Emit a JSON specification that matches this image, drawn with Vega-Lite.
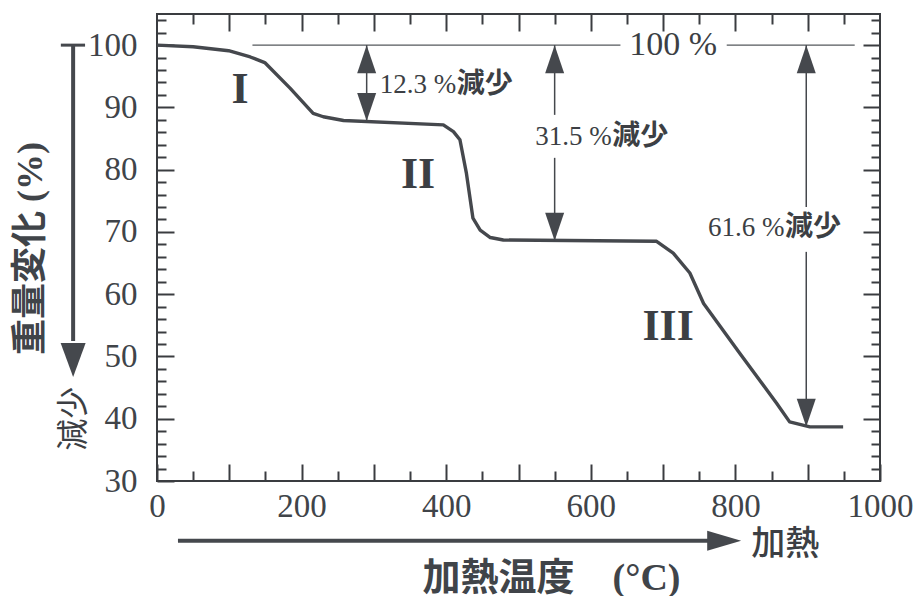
{
  "$schema": "https://vega.github.io/schema/vega-lite/v6.json",
  "width": 723,
  "height": 467,
  "autosize": {"type": "none"},
  "padding": {"left": 157, "top": 14, "right": 37, "bottom": 115},
  "background": "white",
  "config": {
    "view": {"stroke": "#3a3c40", "strokeWidth": 2},
    "axis": {
      "domain": false,
      "grid": false,
      "tickColor": "#3a3c40",
      "tickWidth": 2,
      "labelFont": "Liberation Serif",
      "labelFontSize": 33,
      "labelColor": "#404449",
      "titleColor": "#404449",
      "labelOverlap": false,
      "labelFlush": false
    }
  },
  "datasets": {
    "tga": [
      {"T": 0, "W": 100.0},
      {"T": 50, "W": 99.75},
      {"T": 99, "W": 99.1},
      {"T": 129, "W": 98.1},
      {"T": 149, "W": 97.2},
      {"T": 184, "W": 93.1},
      {"T": 216, "W": 89.05},
      {"T": 230, "W": 88.5},
      {"T": 258, "W": 87.9},
      {"T": 396, "W": 87.2},
      {"T": 410, "W": 86.1},
      {"T": 419, "W": 84.8},
      {"T": 428, "W": 79.4},
      {"T": 437, "W": 72.2},
      {"T": 447, "W": 70.3},
      {"T": 461, "W": 69.1},
      {"T": 479, "W": 68.7},
      {"T": 691, "W": 68.5},
      {"T": 714, "W": 66.6},
      {"T": 737, "W": 63.4},
      {"T": 756, "W": 58.5},
      {"T": 806, "W": 50.5},
      {"T": 857, "W": 42.5},
      {"T": 875, "W": 39.5},
      {"T": 903, "W": 38.7},
      {"T": 949, "W": 38.7}
    ],
    "refline": [
      {"x1": 132, "x2": 641, "y": 100},
      {"x1": 788, "x2": 965, "y": 100}
    ],
    "shafts": [
      {"x": 290, "y1": 100, "y2": 87.8},
      {"x": 550, "y1": 100, "y2": 88.8},
      {"x": 550, "y1": 81.9, "y2": 68.6},
      {"x": 898, "y1": 100, "y2": 74.0},
      {"x": 898, "y1": 66.8, "y2": 38.7}
    ],
    "headsUp": [
      {"x": 290, "y": 100},
      {"x": 550, "y": 100},
      {"x": 898, "y": 100}
    ],
    "headsDown": [
      {"x": 290, "y": 87.8},
      {"x": 550, "y": 68.6},
      {"x": 898, "y": 38.7}
    ],
    "losses": [
      {"x": 308, "y": 93.6, "num": "12.3 %"},
      {"x": 523, "y": 85.3, "num": "31.5 %"},
      {"x": 762, "y": 70.6, "num": "61.6 %"}
    ],
    "stages": [
      {"x": 115, "y": 92.8, "text": "I"},
      {"x": 361, "y": 79.1, "text": "II"},
      {"x": 707, "y": 54.7, "text": "III"}
    ]
  },
  "resolve": {"axis": {"x": "independent", "y": "independent"}},
  "layer": [
    {
      "data": {"name": "tga"},
      "mark": {"type": "line", "color": "#45484d", "strokeWidth": 3.4, "strokeJoin": "round"},
      "encoding": {
        "x": {
          "field": "T", "type": "quantitative",
          "scale": {"domain": [0, 1000], "nice": false, "zero": false},
          "axis": {
            "orient": "bottom",
            "values": [0, 100, 200, 300, 400, 500, 600, 700, 800, 900, 1000],
            "format": "d",
            "tickSize": -17,
            "labelPadding": 26,
            "labelExpr": "datum.value % 200 == 0 ? datum.label : ''",
            "title": "加熱温度　(°C)",
            "titleFont": "Liberation Serif, Noto Sans CJK JP",
            "titleFontSize": 38,
            "titleFontWeight": "bold",
            "titleX": 394,
            "titleY": 97,
            "titleAlign": "center",
            "titleBaseline": "middle"
          }
        },
        "y": {
          "field": "W", "type": "quantitative",
          "scale": {"domain": [30, 105], "nice": false, "zero": false},
          "axis": {
            "orient": "left",
            "values": [30, 40, 50, 60, 70, 80, 90, 100],
            "tickSize": -17,
            "labelPadding": 37,
            "title": "重量変化 (%)",
            "titleFont": "Liberation Serif, Noto Sans CJK JP",
            "titleFontSize": 36,
            "titleFontWeight": "bold",
            "titleAngle": -90,
            "titleX": -127,
            "titleY": 234,
            "titleAlign": "center",
            "titleBaseline": "middle"
          }
        }
      }
    },
    {
      "data": {"name": "refline"},
      "mark": {"type": "rule", "color": "#55585d", "strokeWidth": 1.3},
      "encoding": {
        "x": {
          "field": "x1", "type": "quantitative",
          "axis": {
            "orient": "bottom",
            "values": [50, 150, 250, 350, 450, 550, 650, 750, 850, 950],
            "tickSize": -10,
            "labels": false,
            "title": null
          }
        },
        "x2": {"field": "x2"},
        "y": {
          "field": "y", "type": "quantitative",
          "axis": {
            "orient": "left",
            "values": [32, 34, 36, 38, 42, 44, 46, 48, 52, 54, 56, 58, 62, 64, 66, 68, 72, 74, 76, 78, 82, 84, 86, 88, 92, 94, 96, 98, 102, 104],
            "tickSize": -9,
            "labels": false,
            "title": null
          }
        }
      }
    },
    {
      "data": {"name": "shafts"},
      "mark": {"type": "rule", "color": "#45484d", "strokeWidth": 1.5},
      "encoding": {
        "x": {
          "field": "x", "type": "quantitative",
          "axis": {
            "orient": "top",
            "values": [100, 200, 300, 400, 500, 600, 700, 800, 900],
            "tickSize": -17,
            "labels": false,
            "title": null
          }
        },
        "y": {
          "field": "y1", "type": "quantitative",
          "axis": {
            "orient": "right",
            "values": [40, 50, 60, 70, 80, 90, 100],
            "tickSize": -17,
            "labels": false,
            "title": null
          }
        },
        "y2": {"field": "y2"}
      }
    },
    {
      "data": {"name": "losses"},
      "mark": {"type": "text", "align": "left", "baseline": "middle", "font": "Liberation Serif", "fontSize": 27, "color": "#3c3f44"},
      "encoding": {
        "x": {
          "field": "x", "type": "quantitative",
          "axis": {
            "orient": "top",
            "values": [50, 150, 250, 350, 450, 550, 650, 750, 850, 950],
            "tickSize": -10,
            "labels": false,
            "title": null
          }
        },
        "y": {
          "field": "y", "type": "quantitative",
          "axis": {
            "orient": "right",
            "values": [32, 34, 36, 38, 42, 44, 46, 48, 52, 54, 56, 58, 62, 64, 66, 68, 72, 74, 76, 78, 82, 84, 86, 88, 92, 94, 96, 98, 102, 104],
            "tickSize": -9,
            "labels": false,
            "title": null
          }
        },
        "text": {"field": "num"}
      }
    },
    {
      "data": {"name": "losses"},
      "mark": {"type": "text", "align": "left", "baseline": "middle", "dx": 77, "font": "Noto Sans CJK JP", "fontSize": 28, "fontWeight": "bold", "color": "#3c3f44"},
      "encoding": {
        "x": {"field": "x", "type": "quantitative", "axis": null},
        "y": {"field": "y", "type": "quantitative", "axis": null},
        "text": {"value": "減少"}
      }
    },
    {
      "data": {"name": "headsUp"},
      "mark": {"type": "point", "shape": "M0,0L0.95,2.8L-0.95,2.8Z", "size": 400, "filled": true, "opacity": 1, "color": "#45484d"},
      "encoding": {
        "x": {"field": "x", "type": "quantitative", "axis": null},
        "y": {"field": "y", "type": "quantitative", "axis": null}
      }
    },
    {
      "data": {"name": "headsDown"},
      "mark": {"type": "point", "shape": "M0,0L0.95,-2.8L-0.95,-2.8Z", "size": 400, "filled": true, "opacity": 1, "color": "#45484d"},
      "encoding": {
        "x": {"field": "x", "type": "quantitative", "axis": null},
        "y": {"field": "y", "type": "quantitative", "axis": null}
      }
    },
    {
      "data": {"name": "stages"},
      "mark": {"type": "text", "align": "center", "baseline": "middle", "font": "Liberation Serif", "fontSize": 44, "fontWeight": "bold", "color": "#3c3f44"},
      "encoding": {
        "x": {"field": "x", "type": "quantitative", "axis": null},
        "y": {"field": "y", "type": "quantitative", "axis": null},
        "text": {"field": "text"}
      }
    },
    {
      "data": {"values": [{}]},
      "mark": {"type": "text", "align": "center", "baseline": "middle", "font": "Liberation Serif", "fontSize": 34, "color": "#3c3f44"},
      "encoding": {
        "x": {"datum": 714, "type": "quantitative", "axis": null},
        "y": {"datum": 100, "type": "quantitative", "axis": null},
        "text": {"value": "100 %"}
      }
    },
    {
      "data": {"values": [{}]},
      "mark": {"type": "rule", "color": "#45484d", "strokeWidth": 4},
      "encoding": {
        "x": {"datum": -116, "type": "quantitative", "axis": null},
        "y": {"datum": 100, "type": "quantitative", "axis": null},
        "y2": {"datum": 52.5}
      }
    },
    {
      "data": {"values": [{}]},
      "mark": {"type": "rule", "color": "#45484d", "strokeWidth": 3},
      "encoding": {
        "x": {"datum": -133, "type": "quantitative", "axis": null},
        "x2": {"datum": -99.5},
        "y": {"datum": 100, "type": "quantitative", "axis": null}
      }
    },
    {
      "data": {"values": [{}]},
      "mark": {"type": "point", "shape": "M0,0L1.25,-3.4L-1.25,-3.4Z", "size": 400, "filled": true, "opacity": 1, "color": "#45484d"},
      "encoding": {
        "x": {"datum": -116, "type": "quantitative", "axis": null},
        "y": {"datum": 46.7, "type": "quantitative", "axis": null}
      }
    },
    {
      "data": {"values": [{}]},
      "mark": {"type": "text", "align": "center", "baseline": "middle", "angle": 270, "font": "Noto Sans CJK JP", "fontSize": 32, "color": "#3c3f44"},
      "encoding": {
        "x": {"datum": -115, "type": "quantitative", "axis": null},
        "y": {"datum": 40.0, "type": "quantitative", "axis": null},
        "text": {"value": "減少"}
      }
    },
    {
      "data": {"values": [{}]},
      "mark": {"type": "rule", "color": "#45484d", "strokeWidth": 4},
      "encoding": {
        "x": {"datum": 29, "type": "quantitative", "axis": null},
        "x2": {"datum": 766},
        "y": {"datum": 20.4, "type": "quantitative", "axis": null}
      }
    },
    {
      "data": {"values": [{}]},
      "mark": {"type": "point", "shape": "M0,0L-3.4,-1.0L-3.4,1.0Z", "size": 400, "filled": true, "opacity": 1, "color": "#45484d"},
      "encoding": {
        "x": {"datum": 808, "type": "quantitative", "axis": null},
        "y": {"datum": 20.4, "type": "quantitative", "axis": null}
      }
    },
    {
      "data": {"values": [{}]},
      "mark": {"type": "text", "align": "left", "baseline": "middle", "font": "Noto Sans CJK JP", "fontSize": 34, "fontWeight": 500, "color": "#3c3f44"},
      "encoding": {
        "x": {"datum": 822, "type": "quantitative", "axis": null},
        "y": {"datum": 19.8, "type": "quantitative", "axis": null},
        "text": {"value": "加熱"}
      }
    }
  ]
}
